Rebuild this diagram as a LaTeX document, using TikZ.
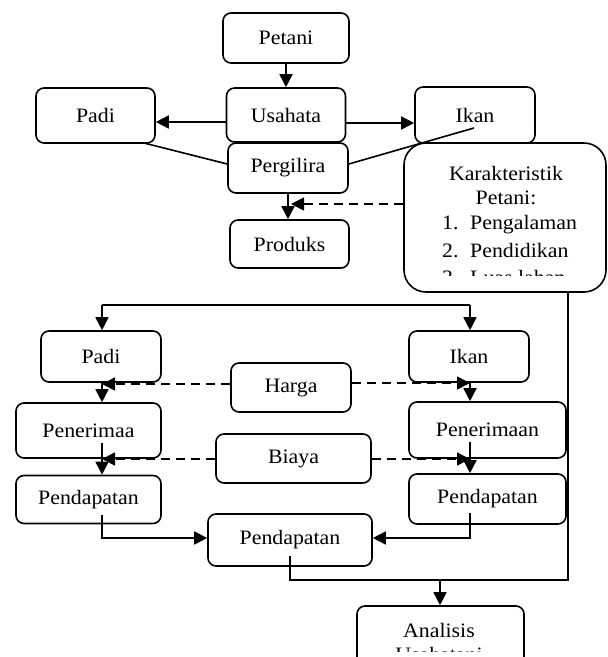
\documentclass[tikz,border=0pt]{standalone}
\usepackage{fontspec}
\setmainfont{Liberation Serif}[FakeStretch=1.065]
\usetikzlibrary{arrows.meta}
\begin{document}
\begin{tikzpicture}[x=1pt,y=-1pt,
  every node/.style={font=\fontsize{20.5}{24}\selectfont, inner sep=0pt},
  box/.style={draw, line width=1.6pt, rounded corners=8pt},
  conn/.style={line width=1.6pt},
  arr/.style={conn, -{Triangle[length=13pt,width=13pt]}},
  dasharr/.style={conn, dash pattern=on 9pt off 6pt, -{Triangle[length=13pt,width=13pt]}},
  txt/.style={anchor=base west}
]
\useasboundingbox (0,0) rectangle (608,657);
% top part
\node[box, minimum width=126pt, minimum height=50pt] (petani) at (286,38) {Petani};
\node[box, minimum width=119pt, minimum height=54pt] (usaha) at (286,115) {Usahata};
\node[box, minimum width=119pt, minimum height=55pt] (padi1) at (95.5,115.5) {Padi};
\node[box, minimum width=120pt, minimum height=56pt] (ikan1) at (475,115) {Ikan};
\node[box, minimum width=120pt, minimum height=50pt] (pergil) at (288,168) {Pergilira};
\node[box, minimum width=119pt, minimum height=48pt] (produks) at (289.5,244) {Produks};
\node[box, rounded corners=22pt, minimum width=202pt, minimum height=149pt] (kar) at (505,217.5) {};
\begin{scope}
\clip (406,150) rectangle (604,275);
\node[anchor=base] (k1) at (506,180) {Karakteristik};
\node[anchor=base] (k2) at (506,204) {Petani:};
\node[txt] (k3n) at (442,229) {1.};
\node[txt] (k3) at (470,229) {Pengalaman};
\node[txt] (k4n) at (442,257) {2.};
\node[txt] (k4) at (470,257) {Pendidikan};
\node[txt] (k5n) at (442,284) {3.};
\node[txt] (k5) at (470,284) {Luas lahan};
\end{scope}
\draw[arr] (petani.south) -- (usaha.north);
\draw[arr] ([yshift=-7pt]usaha.west) -- ([yshift=-7pt]usaha.west -| padi1.east);
\draw[arr] ([yshift=-8pt]usaha.east) -- ([yshift=-8pt]usaha.east -| ikan1.west);
\coordinate (pl) at (144,143);
\coordinate (ir) at (474,128);
\draw[conn] (pl) -- ([yshift=4pt]pergil.west);
\draw[conn] (ir) -- ([yshift=4pt]pergil.east);
\draw[arr] (pergil.south) -- (pergil.south |- produks.north);
\coordinate (kt) at (291,204);
\draw[dasharr] (kar.west |- kt) -- (kt);
% bottom part
\node[box, minimum width=120pt, minimum height=51pt] (padi2) at (101,356.5) {Padi};
\node[box, minimum width=120pt, minimum height=51pt] (ikan2) at (469,356.5) {Ikan};
\node[box, minimum width=120pt, minimum height=49pt] (harga) at (291,387.5) {Harga};
\node[box, minimum width=145pt, minimum height=55pt] (penL) at (88.5,430.5) {Penerimaa};
\node[box, minimum width=157pt, minimum height=56pt] (penR) at (487.5,430) {Penerimaan};
\node[box, minimum width=155pt, minimum height=49pt] (biaya) at (293.5,458.5) {Biaya};
\node[box, minimum width=145pt, minimum height=48pt] (pdL) at (88.5,499.5) {Pendapatan};
\node[box, minimum width=157pt, minimum height=50pt] (pdR) at (487.5,499) {Pendapatan};
\node[box, minimum width=164pt, minimum height=52pt] (pdC) at (290,540) {Pendapatan};
\node[box, minimum width=167pt, minimum height=80pt] (anal) at (440.5,646) {};
\begin{scope}
\clip (359,608) rectangle (522,651);
\node[anchor=base] (a1) at (439,637) {Analisis};
\node[anchor=base] (a2) at (439,661) {Usahatani};
\end{scope}
\coordinate (tl) at (102,305);
\coordinate (tr) at (470,305);
\draw[conn] (tl) -- (tr);
\draw[arr] (tl) -- (tl |- padi2.north);
\draw[arr] (tr) -- (tr |- ikan2.north);
\draw[arr] (tl |- padi2.south) -- (tl |- penL.north);
\draw[arr] (tr |- ikan2.south) -- (tr |- penR.north);
\coordinate (hl) at (102,384);
\coordinate (hr) at (470,383);
\draw[dasharr] (harga.west |- hl) -- (hl);
\draw[dasharr] (harga.east |- hr) -- (hr);
\coordinate (rl) at (102,443);
\coordinate (rr) at (470,442);
\draw[arr] (rl) -- (rl |- pdL.north);
\draw[arr] (rr) -- (rr |- pdR.north);
\coordinate (bl) at (102,459);
\coordinate (br) at (470,459);
\draw[dasharr] (biaya.west |- bl) -- (bl);
\draw[dasharr] (biaya.east |- br) -- (br);
\coordinate (dl) at (102,515);
\coordinate (dr) at (470,513);
\draw[arr] (dl) |- ([yshift=2pt]pdC.west);
\draw[arr] (dr) |- ([yshift=2pt]pdC.east);
\coordinate (dc) at (290,556);
\coordinate (corner) at (568,580);
\draw[conn] (dc) |- (corner) -- (corner |- kar.south);
\coordinate (ja) at (440,580);
\draw[arr] (ja) -- (ja |- anal.north);
\end{tikzpicture}
\end{document}
